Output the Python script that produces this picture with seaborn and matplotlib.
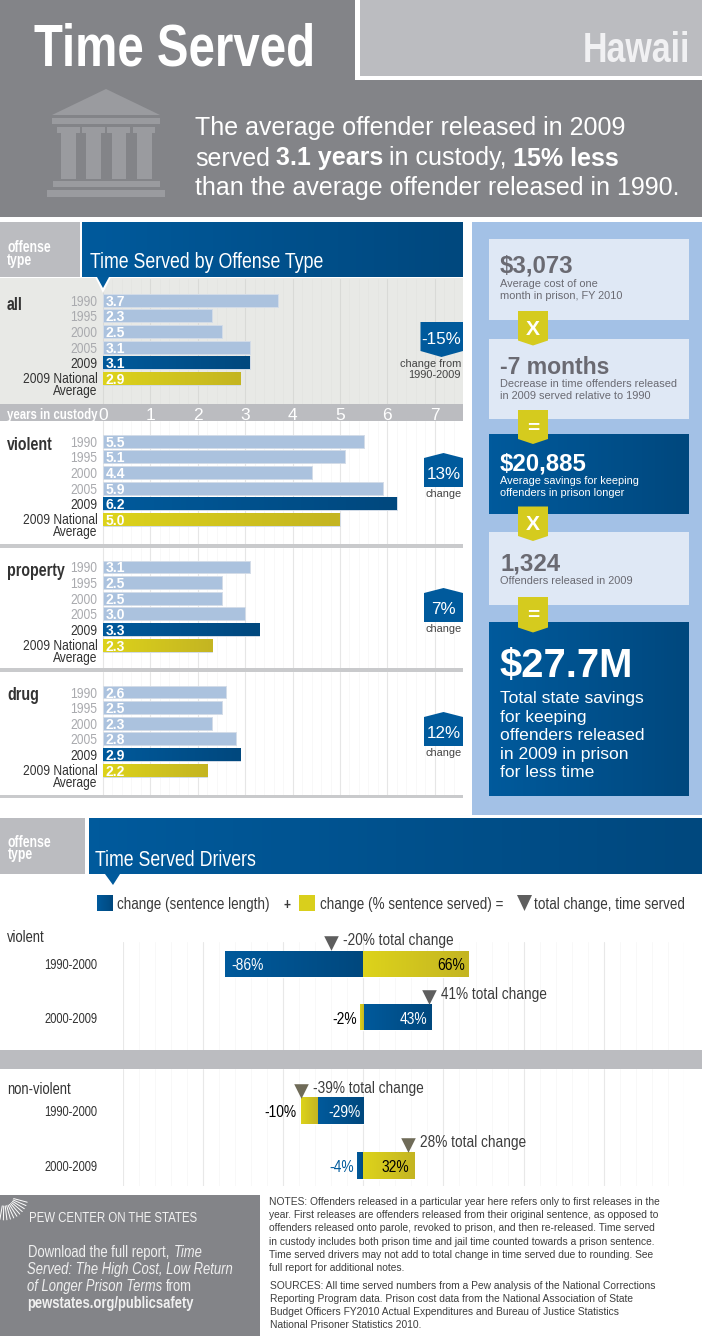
import numpy as np
import pandas as pd
import matplotlib
matplotlib.use("Agg")
import matplotlib.pyplot as plt
from matplotlib import font_manager as fm
import seaborn as sns
from matplotlib.colors import LinearSegmentedColormap
from matplotlib.patches import Polygon, Rectangle
from matplotlib.transforms import ScaledTranslation

# ---------- data ----------
years = ["1990", "1995", "2000", "2005", "2009", "2009 National\nAverage"]
all_vals = [3.7, 2.3, 2.5, 3.1, 3.1, 2.9]
violent_vals = [5.5, 5.1, 4.4, 5.9, 6.2, 5.0]
property_vals = [3.1, 2.5, 2.5, 3.0, 3.3, 2.3]
drug_vals = [2.6, 2.5, 2.3, 2.8, 2.9, 2.2]
periods = ["1990-2000", "2000-2009"]
violent_length = [-86, 43]
violent_served = [66, -2]
violent_total = [-20, 41]
nonviolent_length = [-29, -4]
nonviolent_served = [-10, 32]
nonviolent_total = [-39, 28]

# ---------- styling ----------
sns.set_theme(style="white")
WIDE = "Liberation Sans"


def make_narrow(sx=0.79):
    """Build a condensed face of Liberation Sans so that the text stays real text."""
    from fontTools.ttLib import TTFont
    from fontTools.ttLib.tables._g_l_y_f import GlyphCoordinates
    name = "Pew Narrow"
    for wt, st in [("normal", "normal"), ("bold", "normal"), ("normal", "italic")]:
        src = fm.findfont(fm.FontProperties(family=WIDE, weight=wt, style=st), fallback_to_default=False)
        f = TTFont(src)
        glyf = f["glyf"]
        for g in glyf.keys():
            gl = glyf[g]
            if gl.isComposite():
                for c in gl.components:
                    c.x = int(round(c.x * sx))
            elif gl.numberOfContours > 0:
                gl.coordinates = GlyphCoordinates([(int(round(x * sx)), y) for x, y in gl.coordinates])
            if hasattr(gl, "program"):
                gl.removeHinting()
        hm = f["hmtx"].metrics
        for g in hm:
            hm[g] = (int(round(hm[g][0] * sx)), int(round(hm[g][1] * sx)))
        for tag in ["fpgm", "prep", "cvt ", "hdmx", "VDMX", "LTSH", "GPOS", "GSUB", "GDEF"]:
            if tag in f:
                del f[tag]
        if "kern" in f:
            for t in f["kern"].kernTables:
                t.kernTable = {k: int(round(v * sx)) for k, v in t.kernTable.items()}
        for rec in f["name"].names:
            if rec.nameID in (1, 16):
                rec.string = name
            elif rec.nameID in (4, 6):
                rec.string = f"PewNarrow-{wt}-{st}"
        path = f"pewnarrow_{wt}_{st}.ttf"
        f.save(path)
        fm.fontManager.addfont(path)
    return name


NARROW = make_narrow()
plt.rcParams["font.family"] = [WIDE, "DejaVu Sans"]
GRAY = "#838488"
LGRAY = "#BBBCC0"
LBLUE = "#A3C1E6"
B0, B1 = "#005A9C", "#00487E"
Y0, Y1 = "#DDD31B", "#C4B522"
W, H = 702, 1337
fig = plt.figure(figsize=(W / 100, H / 100), dpi=100, facecolor="white")


def rect(x0, y0, x1, y1):
    return [x0 / W, 1 - y1 / H, (x1 - x0) / W, (y1 - y0) / H]


def px_axes(z):
    a = fig.add_axes([0, 0, 1, 1], zorder=z)
    a.set_xlim(0, W)
    a.set_ylim(H, 0)
    a.axis("off")
    a.patch.set_alpha(0)
    return a


back = px_axes(0)
top = px_axes(5)


def cmap2(c0, c1):
    return LinearSegmentedColormap.from_list("g", [c0, c1])


def box(a, x0, y0, x1, y1, c, **kw):
    a.add_patch(Rectangle((x0, y0), x1 - x0, y1 - y0, fc=c, ec="none", lw=0, **kw))


def poly(a, pts, c, **kw):
    a.add_patch(Polygon(pts, fc=c, ec="none", lw=0, **kw))


def gbox(a, x0, y0, x1, y1, c0=B0, c1=B1, z=1):
    a.imshow(np.linspace(0, 1, 64).reshape(1, -1), extent=[x0, x1, y1, y0], aspect="auto",
             cmap=cmap2(c0, c1), zorder=z)
    a.set_xlim(0, W)
    a.set_ylim(H, 0)


def T(x, y, s, px, c="white", fam=None, w="normal", ha="left", st="normal", a=None):
    return (a or top).text(x, y, s, fontsize=px * 0.72, color=c, family=fam or NARROW, weight=w, ha=ha,
                           va="center_baseline", style=st)


def runs(x, y, parts, px, c="white", fam=None, gap=0.24):
    r = fig.canvas.get_renderer()
    for s, w, st in parts:
        t = T(x, y, s, px, c, fam, w, st=st)
        x += t.get_window_extent(r).width + gap * px


# ---------- header ----------
box(back, 0, 0, W, 217, GRAY)
box(back, 355, 0, W, 80, "white")
box(back, 360, 0, W, 76, LGRAY)
T(34, 44, "Time Served", 60, w="bold")
T(690, 46, "Hawaii", 43, c="#F1F1F3", w="bold", ha="right")
IC = "#9A9B9F"
poly(back, [(106, 89), (160, 115), (52, 115)], IC)
box(back, 52, 118, 160, 124, IC)
for x0, x1, s0, s1 in [(57, 80, 61, 76), (82, 105, 86, 101), (107, 130, 112, 126), (133, 155, 137, 152)]:
    box(back, x0, 127, x1, 133, IC)
    box(back, s0, 133, s1, 179, IC)
box(back, 53, 181, 160, 187, IC)
box(back, 47, 190, 165, 197, IC)
T(195, 126, "The average offender released in 2009", 25, fam=WIDE)
runs(195, 156, [("served", "normal", "normal"), ("3.1 years", "bold", "normal"), ("in custody,", "normal", "normal"),
                ("15% less", "bold", "normal")], 25, fam=WIDE)
T(195, 186, "than the average offender released in 1990.", 25, fam=WIDE)

# ---------- section 1 header ----------
box(back, 0, 222, 80, 277, LGRAY)
gbox(back, 82, 222, 463, 277)
T(7, 246, "offense", 15.5, w="bold")
T(7, 259, "type", 15.5, w="bold")
T(90, 260, "Time Served by Offense Type", 22.5)
poly(top, [(95, 277), (111, 277), (103, 293)], "white")
poly(top, [(97, 277), (109, 277), (103, 288)], B0)

# ---------- offense panels ----------
ZERO, PXU, ROW = 103, 47.4, 15.65
bar_cols = [LBLUE, LBLUE, LBLUE, LBLUE, B0, Y0]
lab_cols = ["#A9AAAE", "#A9AAAE", "#A9AAAE", "#A9AAAE", "#333333", "#333333"]


def panel(vals, y0, y1, first, fc, gmaj, gmin, showx=False):
    ax = fig.add_axes(rect(0, y0, 463, y1), facecolor=fc, zorder=1)
    df = pd.DataFrame({"year": years, "value": vals})
    sns.barplot(data=df, x="value", y="year", hue="year", order=years, hue_order=years,
                palette=dict(zip(years, bar_cols)), legend=False, dodge=False, width=0.83,
                orient="h", errorbar=None, ax=ax, edgecolor="#D3DCE8", linewidth=0.7, zorder=2)
    for p, col in zip(sorted(ax.patches, key=lambda b: b.get_y()), bar_cols):
        if col != LBLUE:
            c0, c1 = (B0, B1) if col == B0 else (Y0, Y1)
            ax.imshow(np.linspace(0, 1, 64).reshape(1, -1), aspect="auto", cmap=cmap2(c0, c1), zorder=2.1,
                      extent=[p.get_x(), p.get_x() + p.get_width(), p.get_y() + p.get_height(), p.get_y()])
    for i, v in enumerate(vals):
        ax.text(0.06, i, f"{v:.1f}", color="white", weight="bold", family=WIDE, fontsize=10,
                va="center_baseline", zorder=3)
    ax.set_xlim(-ZERO / PXU, (463 - ZERO) / PXU)
    ax.set_ylim((y1 - first) / ROW, (y0 - first) / ROW)
    ax.set_xticks(range(0, 8))
    ax.set_xticks(np.arange(0, 7.6, 0.2), minor=True)
    ax.set_axisbelow(True)
    ax.grid(True, which="major", axis="x", color=gmaj, lw=0.8)
    ax.grid(True, which="minor", axis="x", color=gmin, lw=0.5)
    ax.grid(False, axis="y")
    for k in ["top", "right", "bottom"]:
        ax.spines[k].set_visible(False)
    ax.spines["left"].set_position(("data", 0))
    ax.spines["left"].set_visible(False)
    ax.set_xlabel("")
    ax.set_ylabel("")
    ax.tick_params(axis="both", which="both", length=0)
    ax.tick_params(axis="y", pad=4)
    ax.tick_params(axis="x", pad=3.5, labelsize=12.5, labelcolor="white", labelbottom=showx)
    for lab, c in zip(ax.get_yticklabels(), lab_cols):
        lab.set_color(c)
        lab.set_family(NARROW)
        lab.set_fontsize(11)
        lab.set_linespacing(0.82)
    nat = ax.get_yticklabels()[-1]
    nat.set_va("top")
    nat.set_transform(nat.get_transform() + ScaledTranslation(0, 6.5 / 100, fig.dpi_scale_trans))
    return ax


box(back, 0, 278, 463, 403.5, "#E8E9E6")
box(back, 0, 404, 463, 421, LGRAY)
box(back, 0, 543.5, 463, 548, "#C9CACC")
box(back, 0, 668, 463, 672, "#C9CACC")
box(back, 0, 795, 463, 798, "#C9CACC")
panel(all_vals, 279, 403.5, 300.3, "#E8E9E6", "#D9DAD7", "#E3E4E1", showx=True)
panel(violent_vals, 421, 543.5, 441.3, "white", "#E6E6E6", "#F6F6F6")
panel(property_vals, 548, 668, 567, "white", "#E6E6E6", "#F6F6F6")
panel(drug_vals, 672, 795, 692, "white", "#E6E6E6", "#F6F6F6")

T(7, 303, "all", 18, c="#333333", w="bold")
T(7, 443, "violent", 18, c="#333333", w="bold")
T(7, 569, "property", 18, c="#333333", w="bold")
T(7, 694, "drug", 18, c="#333333", w="bold")
T(7, 413, "years in custody", 14.5, w="bold")

# badges
poly(top, [(420.5, 322), (463, 322), (463, 351), (441.5, 357), (420.5, 351)], B0)
T(441.5, 338, "-15%", 17, fam=WIDE, ha="center")
T(461, 363, "change from", 11, c="#444444", fam=WIDE, ha="right")
T(461, 374, "1990-2009", 11, c="#444444", fam=WIDE, ha="right")
for off, txt in [(0, "13%"), (135, "7%"), (259, "12%")]:
    poly(top, [(424, 458 + off), (443.5, 453 + off), (463, 458 + off), (463, 487 + off), (424, 487 + off)], B0)
    T(443.5, 473 + off, txt, 17, fam=WIDE, ha="center")
    T(443.5, 493 + off, "change", 11, c="#444444", fam=WIDE, ha="center")

# ---------- right column ----------
box(back, 472, 222, W, 815, LBLUE)
LB = "#DFE8F5"
for y0, y1 in [(239, 319.5), (339, 418.5), (532, 605)]:
    box(top, 489, y0, 689, y1, LB)
gbox(top, 489, 434.5, 689, 514)
gbox(top, 489, 623, 689, 796.5)
for y0, y1, s in [(311, 345.5, "X"), (410, 444, "="), (506.5, 541, "X"), (597, 632.5, "=")]:
    poly(top, [(518, y0), (548, y0), (548, y1 - 5), (533, y1), (518, y1 - 5)], "#D5CB1E", zorder=3)
    t = T(533, (y0 + y1) / 2 - 1, s, 21, fam=WIDE, w="bold", ha="center")
    t.set_zorder(4)
DK = "#6A6A72"
T(500, 264, "$3,073", 24, c=DK, fam=WIDE, w="bold")
T(500, 283, "Average cost of one", 11, c=DK, fam=WIDE)
T(500, 295, "month in prison, FY 2010", 11, c=DK, fam=WIDE)
T(500, 365, "-7 months", 23, c=DK, fam=WIDE, w="bold")
T(500, 383, "Decrease in time offenders released", 11, c=DK, fam=WIDE)
T(500, 395, "in 2009 served relative to 1990", 11, c=DK, fam=WIDE)
T(500, 462, "$20,885", 24, fam=WIDE, w="bold")
T(500, 480, "Average savings for keeping", 11, fam=WIDE)
T(500, 492, "offenders in prison longer", 11, fam=WIDE)
T(500, 562, "1,324", 24, c=DK, fam=WIDE, w="bold")
T(500, 580, "Offenders released in 2009", 11, c=DK, fam=WIDE)
T(499, 662, "$27.7M", 40, fam=WIDE, w="bold")
for y, s in zip([697, 716, 734, 753, 771],
                ["Total state savings", "for keeping", "offenders released", "in 2009 in prison", "for less time"]):
    T(500, y, s, 17.5, fam=WIDE)

# ---------- section 2 header ----------
box(back, 0, 818, 85, 874, LGRAY)
gbox(back, 88.5, 818, W, 874)
T(8, 841, "offense", 15.5, w="bold")
T(8, 853, "type", 15.5, w="bold")
T(95, 858, "Time Served Drivers", 22.5)
poly(top, [(105, 874), (120, 874), (113, 885)], B0)
gbox(top, 97, 895, 113, 911)
box(top, 299, 895, 315, 911, "#D9CF1C")
LEG = "#3A3A3A"
T(117, 903, "change (sentence length)", 17, c=LEG)
T(283, 903, "+", 15, c=LEG, w="bold")
T(320, 903, "change (% sentence served) =", 17, c=LEG)
poly(top, [(517, 895), (532, 895), (524.5, 911)], "#5E5E5E")
T(534, 903, "total change, time served", 17, c=LEG)

# ---------- drivers ----------
DX0, DX1 = 122.7, 684
DSCALE = (DX1 - DX0) / 350


def drivers(length, served, total, y0, y1, c0, c1, tri):
    ax = fig.add_axes(rect(DX0, y0, DX1, y1), zorder=2)
    ax.patch.set_alpha(0)
    lefts = [l if l * s > 0 else 0 for l, s in zip(length, served)]
    sns.barplot(x=length, y=periods, orient="h", color=B0, width=0.483, errorbar=None, ax=ax, zorder=2)
    n = len(ax.patches)
    sns.barplot(x=served, y=periods, orient="h", color=Y0, width=0.483, errorbar=None, ax=ax, left=lefts, zorder=2)
    for i, p in enumerate(list(ax.patches)):
        a, b = (B0, B1) if i < n else (Y0, Y1)
        px, pw = p.get_x(), p.get_width()
        ax.imshow(np.linspace(0, 1, 64).reshape(1, -1), aspect="auto", cmap=cmap2(a, b), zorder=2.1,
                  extent=[min(px, px + pw), max(px, px + pw), p.get_y() + p.get_height(), p.get_y()])
    ax.set_xlim(-150, 200)
    ax.set_ylim((y1 - c0) / (c1 - c0), (y0 - c0) / (c1 - c0))
    ax.set_xticks(range(-150, 201, 50))
    ax.set_xticks(range(-150, 201, 10), minor=True)
    ax.set_axisbelow(True)
    ax.grid(True, which="major", axis="x", color="#E8E8E8", lw=0.8)
    ax.grid(True, which="minor", axis="x", color="#F5F5F5", lw=0.5)
    ax.grid(False, axis="y")
    sns.despine(ax=ax, left=True, bottom=True)
    ax.set_xlabel("")
    ax.set_ylabel("")
    ax.tick_params(axis="both", which="both", length=0, labelbottom=False)
    ax.tick_params(axis="y", pad=18.5)
    for lab in ax.get_yticklabels():
        lab.set_family(NARROW)
        lab.set_fontsize(10.2)
        lab.set_color("#333333")
    for i, tv in enumerate(total):
        ax.scatter([tv], [i], marker="v", s=110, color=tri, linewidths=0, zorder=4, clip_on=False,
                   transform=ax.transData + ScaledTranslation(0, 20.5 / 100, fig.dpi_scale_trans))
        ax.annotate(f"{tv}% total change", xy=(tv, i), xytext=(8.5, 17.5), textcoords="offset points",
                    family=NARROW, fontsize=12.4, color="#3C3C3C", va="center_baseline", annotation_clip=False)
    return ax


def put(ax, x, i, s, c, ha, dx):
    ax.annotate(s, xy=(x, i), xytext=(dx * 0.72, 0), textcoords="offset points", family=NARROW, fontsize=12.6,
                color=c, ha=ha, va="center_baseline", zorder=5, annotation_clip=False)


box(back, 0, 1050, W, 1069, LGRAY)
a1 = drivers(violent_length, violent_served, violent_total, 941.7, 1050, 963.7, 1017.5, "#5E5E5E")
a2 = drivers(nonviolent_length, nonviolent_served, nonviolent_total, 1069, 1186, 1111, 1165.7, "#6F6B58")
put(a1, violent_length[0], 0, f"{violent_length[0]}%", "white", "left", 6)
put(a1, violent_served[0], 0, f"{violent_served[0]}%", "black", "right", -4)
put(a1, violent_served[1], 1, f"{violent_served[1]}%", "black", "right", -3)
put(a1, violent_length[1], 1, f"{violent_length[1]}%", "white", "right", -5)
put(a2, nonviolent_total[0], 0, f"{nonviolent_served[0]}%", "black", "right", -4)
put(a2, 0, 0, f"{nonviolent_length[0]}%", "white", "right", -3)
put(a2, nonviolent_length[1], 1, f"{nonviolent_length[1]}%", B0, "right", -2.5)
put(a2, nonviolent_served[1], 1, f"{nonviolent_served[1]}%", "black", "right", -5)
T(7, 936, "violent", 16.5, c="#333333")
T(7, 1088, "non-violent", 16.5, c="#333333")

# ---------- footer ----------
box(back, 0, 1195, 260, 1336, GRAY)
for ang in np.linspace(15, 100, 11):
    r = np.radians(ang)
    top.plot([4 + 10 * np.cos(r), 4 + 24 * np.cos(r)], [1196 + 10 * np.sin(r), 1196 + 24 * np.sin(r)],
             color="white", lw=0.7, solid_capstyle="round")
T(29, 1217, "PEW CENTER ON THE STATES", 14.5, c="#F2F2F2")
FT = "#F0F0F0"
runs(28, 1251, [("Download the full report,", "normal", "normal"), ("Time", "normal", "italic")], 16.5, FT)
runs(27, 1268, [("Served: The High Cost, Low Return", "normal", "italic")], 16.5, FT)
runs(27, 1285, [("of Longer Prison Terms", "normal", "italic"), ("from", "normal", "normal")], 16.5, FT)
T(27.5, 1302, "pewstates.org/publicsafety", 16.5, c=FT, w="bold")

notes = ["NOTES: Offenders released in a particular year here refers only to first releases in the",
         "year. First releases are offenders released from their original sentence, as opposed to",
         "offenders released onto parole, revoked to prison, and then re-released. Time served",
         "in custody includes both prison time and jail time counted towards a prison sentence.",
         "Time served drivers may not add to total change in time served due to rounding. See",
         "full report for additional notes."]
sources = ["SOURCES: All time served numbers from a Pew analysis of the National Corrections",
           "Reporting Program data. Prison cost data from the National Association of State",
           "Budget Officers FY2010 Actual Expenditures and Bureau of Justice Statistics",
           "National Prisoner Statistics 2010."]
for y, s in zip([1201, 1214, 1227, 1241, 1254, 1267], notes):
    T(269, y, s, 10.3, c="#3E3E3E", fam=WIDE)
for y, s in zip([1285, 1298, 1311, 1324], sources):
    T(269.5, y, s, 10.3, c="#3E3E3E", fam=WIDE)

fig.savefig("out.png", dpi=100, facecolor="white")
